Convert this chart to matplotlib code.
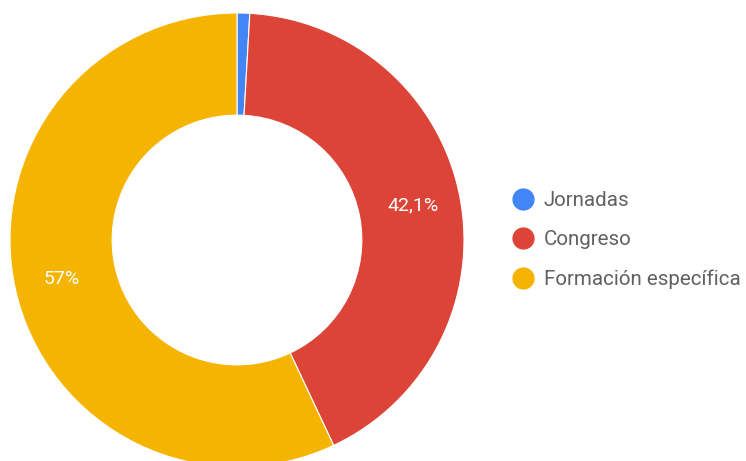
import matplotlib.pyplot as plt
from matplotlib.lines import Line2D

labels = ['Jornadas', 'Congreso', 'Formación específica']
values = [0.9, 42.1, 57.0]
colors = ['#4285F4', '#DB4437', '#F4B400']

plt.rcParams['font.family'] = ['Roboto', 'DejaVu Sans']

fig = plt.figure(figsize=(7.46, 4.61), dpi=100)
ax = fig.add_axes([0, 0, 1, 1])


def fmt(p):
    if p < 5:
        return ''
    s = ('%.1f' % p).rstrip('0').rstrip('.')
    return s.replace('.', ',') + '%'


wedges, texts, autotexts = ax.pie(
    values, colors=colors, startangle=90, counterclock=False,
    center=(237, 221), radius=227, autopct=fmt, pctdistance=0.79,
    wedgeprops=dict(width=227 * 0.45, edgecolor='white', linewidth=0.8),
    textprops=dict(color='white', fontsize=14), frame=True)
ax.set_xlim(0, 746)
ax.set_ylim(0, 461)
ax.set_aspect('equal')
ax.axis('off')

handles = [Line2D([], [], marker='o', ls='', markersize=15, color=c) for c in colors]
fig.legend(handles, labels, loc='center left', bbox_to_anchor=(513 / 746, 1 - 240 / 461),
           frameon=False, fontsize=14.8, labelcolor='#616161', handletextpad=0.5,
           labelspacing=0.98, handlelength=1.0, borderaxespad=0, borderpad=0)

fig.savefig('out.png', dpi=100)
